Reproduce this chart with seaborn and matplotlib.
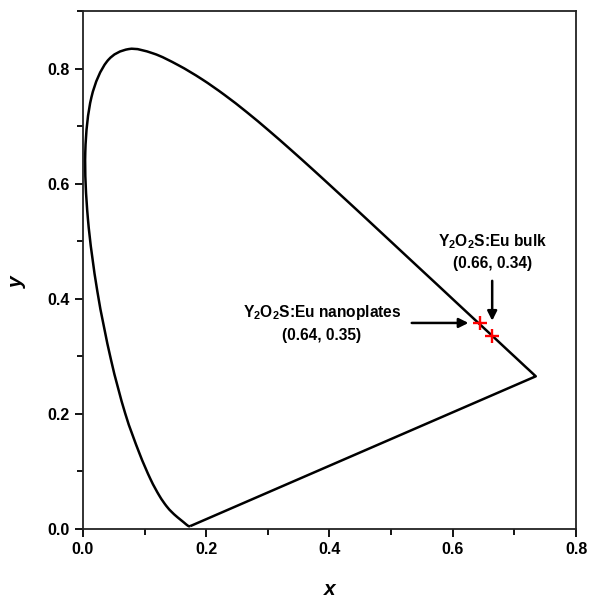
import matplotlib
matplotlib.use("Agg")
import matplotlib.pyplot as plt
import seaborn as sns
import pandas as pd
import numpy as np
from matplotlib.ticker import MultipleLocator
from matplotlib.path import Path
from matplotlib.patches import PathPatch

# CIE 1931 spectral locus (380-700 nm, 5 nm steps), closed by the purple line
locus_x = [0.1741, 0.1740, 0.1738, 0.1736, 0.1733, 0.1730, 0.1726, 0.1721, 0.1714, 0.1703,
           0.1689, 0.1669, 0.1644, 0.1611, 0.1566, 0.1510, 0.1440, 0.1355, 0.1241, 0.1096,
           0.0913, 0.0687, 0.0454, 0.0235, 0.0082, 0.0039, 0.0139, 0.0389, 0.0743, 0.1142,
           0.1547, 0.1929, 0.2296, 0.2658, 0.3016, 0.3373, 0.3731, 0.4087, 0.4441, 0.4788,
           0.5125, 0.5448, 0.5752, 0.6029, 0.6270, 0.6482, 0.6658, 0.6801, 0.6915, 0.7006,
           0.7079, 0.7140, 0.7190, 0.7230, 0.7260, 0.7283, 0.7300, 0.7311, 0.7320, 0.7327,
           0.7334, 0.7340, 0.7344, 0.7346, 0.7347]
locus_y = [0.0050, 0.0050, 0.0049, 0.0049, 0.0048, 0.0048, 0.0048, 0.0048, 0.0051, 0.0058,
           0.0069, 0.0086, 0.0109, 0.0138, 0.0177, 0.0227, 0.0297, 0.0399, 0.0578, 0.0868,
           0.1327, 0.2007, 0.2950, 0.4127, 0.5384, 0.6548, 0.7502, 0.8120, 0.8338, 0.8262,
           0.8059, 0.7816, 0.7543, 0.7243, 0.6923, 0.6589, 0.6245, 0.5896, 0.5547, 0.5202,
           0.4866, 0.4544, 0.4242, 0.3965, 0.3725, 0.3514, 0.3340, 0.3197, 0.3083, 0.2993,
           0.2920, 0.2859, 0.2809, 0.2770, 0.2740, 0.2717, 0.2700, 0.2689, 0.2680, 0.2673,
           0.2666, 0.2660, 0.2656, 0.2654, 0.2653]

sample_names = ["nanoplates", "bulk"]
sample_x = [0.644, 0.664]
sample_y = [0.358, 0.335]
sample_labels = ["Y$_2$O$_2$S:Eu nanoplates\n(0.64, 0.35)", "Y$_2$O$_2$S:Eu bulk\n(0.66, 0.34)"]

sns.set_style("ticks")
plt.rcParams["font.family"] = ["Liberation Sans", "DejaVu Sans"]
plt.rcParams["mathtext.fontset"] = "custom"
plt.rcParams["mathtext.rm"] = "Liberation Sans:bold"
plt.rcParams["mathtext.it"] = "Liberation Sans:bold:italic"
plt.rcParams["mathtext.bf"] = "Liberation Sans:bold"
plt.rcParams["text.color"] = "black"
plt.rcParams["axes.labelcolor"] = "black"
plt.rcParams["xtick.color"] = "black"
plt.rcParams["ytick.color"] = "black"

fig = plt.figure(figsize=(5.92, 6.03), dpi=100)
ax = fig.add_axes([0.140, 0.1227, 0.833, 0.8591])

# smooth rendering of the spectral locus (cubic Bezier through the table points)
px = np.array(locus_x)
py = np.array(locus_y)
verts = [(px[0], py[0])]
codes = [Path.MOVETO]
n = len(px)
for i in range(n - 1):
    p0 = np.array([px[max(i - 1, 0)], py[max(i - 1, 0)]])
    p1 = np.array([px[i], py[i]])
    p2 = np.array([px[i + 1], py[i + 1]])
    p3 = np.array([px[min(i + 2, n - 1)], py[min(i + 2, n - 1)]])
    c1 = p1 + (p2 - p0) / 6.0
    c2 = p2 - (p3 - p1) / 6.0
    verts += [tuple(c1), tuple(c2), tuple(p2)]
    codes += [Path.CURVE4] * 3
# purple line back to start
verts.append((px[0], py[0]))
codes.append(Path.LINETO)
ax.add_patch(PathPatch(Path(verts, codes), facecolor="none", edgecolor="black",
                       lw=1.8, joinstyle="round", zorder=3))

pts = pd.DataFrame({"x": sample_x, "y": sample_y, "name": sample_names})
sns.scatterplot(data=pts, x="x", y="y", marker="+", s=95, color="red", linewidth=1.7,
                ax=ax, zorder=5)

# annotations
ax.annotate("", xy=(sample_x[0] - 0.014, sample_y[0]), xytext=(0.529, sample_y[0]),
            arrowprops=dict(arrowstyle="-|>", color="black", lw=1.8, mutation_scale=14))
ax.annotate("", xy=(sample_x[1], sample_y[1] + 0.022), xytext=(sample_x[1], 0.436),
            arrowprops=dict(arrowstyle="-|>", color="black", lw=1.8, mutation_scale=14))
ax.text(0.388, 0.358, sample_labels[0], ha="center", va="center", fontsize=11.2,
        fontweight="bold", linespacing=1.45)
ax.text(0.665, 0.482, sample_labels[1], ha="center", va="center", fontsize=11.2,
        fontweight="bold", linespacing=1.45)

ax.set_xlim(0, 0.8)
ax.set_ylim(0, 0.9)
ax.xaxis.set_major_locator(MultipleLocator(0.2))
ax.xaxis.set_minor_locator(MultipleLocator(0.1))
ax.yaxis.set_major_locator(MultipleLocator(0.2))
ax.yaxis.set_minor_locator(MultipleLocator(0.1))
ax.tick_params(which="major", direction="out", length=6, width=1.3, labelsize=11.5)
ax.tick_params(which="minor", direction="out", length=4, width=1.3)
for lab in ax.get_xticklabels() + ax.get_yticklabels():
    lab.set_fontweight("bold")
for sp in ax.spines.values():
    sp.set_visible(True)
    sp.set_linewidth(1.3)
    sp.set_color("#222222")

ax.set_xlabel("x", fontsize=15, fontweight="bold", fontstyle="italic")
ax.set_ylabel("y", fontsize=15, fontweight="bold", fontstyle="italic")
ax.xaxis.set_label_coords(0.5, -0.098)
ax.yaxis.set_label_coords(-0.114, 0.477)

fig.savefig("out.png", dpi=100)
